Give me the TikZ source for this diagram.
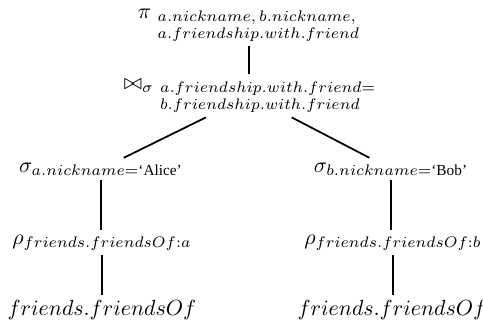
\documentclass[tikz,border=0pt]{standalone}
\usepackage{amsmath}
\usepackage{fontspec}
\newfontfamily\tmsfont[Ligatures=TeX]{Liberation Serif}
\newcommand\twoline[2]{\vtop{\baselineskip=7.9pt\lineskiplimit=-10pt\hbox{$\scriptstyle #1$}\hbox{$\scriptstyle #2$}}}
\newcommand\qtxt[1]{\text{\tmsfont ‘#1’}}
\begin{document}
\begin{tikzpicture}[x=0.4566pt,y=-0.4566pt,
  op/.style={inner sep=2pt,anchor=base},
  edge/.style={line width=0.8pt}]
\useasboundingbox (0,0) rectangle (483,322);
\node[op] (top) at (249,18) {$\pi_{\ \twoline{a.nickname,\,b.nickname,}{a.friendship.with.friend}}$};
\node[op] (join) at (250,89) {$\bowtie_{\sigma\ \twoline{a.friendship.with.friend=}{b.friendship.with.friend}}$};
\node[op] (sL) at (101,172) {$\sigma_{a.nickname=\qtxt{Alice}}$};
\node[op] (sR) at (391,172) {$\sigma_{b.nickname=\qtxt{Bob}}$};
\node[op] (rL) at (102,244) {$\rho_{friends.friendsOf:a}$};
\node[op] (rR) at (393,244) {$\rho_{friends.friendsOf:b}$};
\node[op] (bL) at (102,315) {$friends.friendsOf$};
\node[op] (bR) at (392,315) {$friends.friendsOf$};
\draw[edge] (top.south) -- (top.south |- join.north);
\draw[edge] (join) -- (sL);
\draw[edge] (join) -- (sR);
\draw[edge] (sL.south) -- (sL.south |- rL.north);
\draw[edge] (sR.south) -- (sR.south |- rR.north);
\draw[edge] (rL.south) -- (rL.south |- bL.north);
\draw[edge] (rR.south) -- (rR.south |- bR.north);
\end{tikzpicture}
\end{document}
